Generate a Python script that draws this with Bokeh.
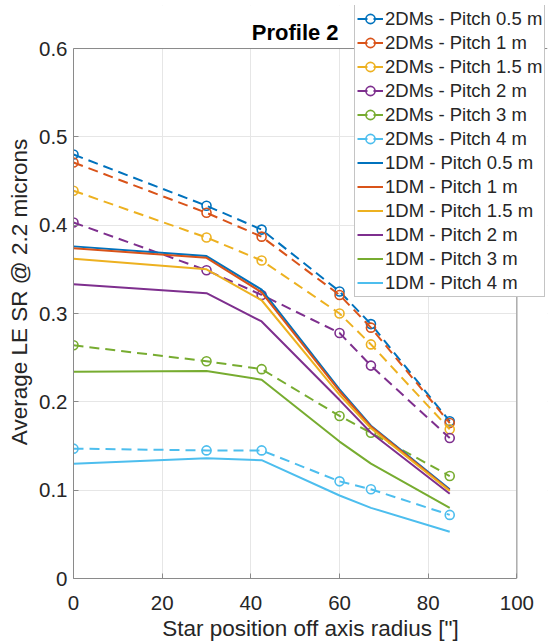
from bokeh.plotting import figure
from bokeh.models import Legend, LegendItem, Range1d, FixedTicker, Span, BoxAnnotation, Label
from bokeh.embed import file_html
from bokeh.resources import INLINE

# ---- data ----
x_pos = [0, 30, 42.43, 60, 67.08, 84.85]
pitches = ["0.5", "1", "1.5", "2", "3", "4"]

sr_2dms = {
    "0.5": [0.480, 0.422, 0.395, 0.325, 0.288, 0.178],
    "1":   [0.471, 0.414, 0.387, 0.321, 0.284, 0.176],
    "1.5": [0.439, 0.386, 0.360, 0.300, 0.265, 0.169],
    "2":   [0.403, 0.349, 0.321, 0.278, 0.241, 0.159],
    "3":   [0.264, 0.246, 0.237, 0.184, 0.165, 0.116],
    "4":   [0.147, 0.145, 0.145, 0.110, 0.101, 0.072],
}
sr_1dm = {
    "0.5": [0.376, 0.365, 0.327, 0.214, 0.173, 0.101],
    "1":   [0.374, 0.363, 0.324, 0.212, 0.172, 0.100],
    "1.5": [0.362, 0.350, 0.315, 0.208, 0.170, 0.099],
    "2":   [0.333, 0.323, 0.291, 0.202, 0.165, 0.096],
    "3":   [0.234, 0.235, 0.225, 0.155, 0.130, 0.080],
    "4":   [0.130, 0.136, 0.134, 0.094, 0.080, 0.053],
}
colors = ["#0072BD", "#D95319", "#EDB120", "#7E2F8E", "#77AC30", "#4DBEEE"]
x_ticks = [0, 20, 40, 60, 80, 100]
y_ticks = [0, 0.1, 0.2, 0.3, 0.4, 0.5, 0.6]
X_MAX, Y_MAX = 100, 0.6          # axes box limits
X_VIEW, Y_VIEW = 106.9, 0.6487   # extra room so the legend can overhang the box

FONT = "Liberation Sans"
TXT = "#262626"
AX = "#8a8a8a"

p = figure(width=550, height=643, output_backend="svg", toolbar_location=None,
           x_range=Range1d(0, X_VIEW), y_range=Range1d(0, Y_VIEW),
           min_border_left=73, min_border_right=3, min_border_top=5, min_border_bottom=65)
p.background_fill_color = "white"
p.border_fill_color = "white"
p.outline_line_color = None

for ax in (p.xaxis[0], p.yaxis[0]):
    ax.major_label_text_font = FONT
    ax.major_label_text_font_size = "20.5px"
    ax.major_label_text_color = TXT
    ax.axis_label_text_font = FONT
    ax.axis_label_text_font_size = "22.5px"
    ax.axis_label_text_font_style = "normal"
    ax.axis_label_text_color = TXT
    ax.axis_line_color = AX
    ax.major_tick_line_color = AX
    ax.major_tick_in = 5
    ax.major_tick_out = 0
    ax.minor_tick_line_color = None

p.xaxis.ticker = FixedTicker(ticks=x_ticks)
p.yaxis.ticker = FixedTicker(ticks=y_ticks)
p.xaxis.bounds = (0, X_MAX)
p.yaxis.bounds = (0, Y_MAX)
p.yaxis.major_label_overrides = {0: "0"}
p.xaxis.axis_label = 'Star position off axis radius ["]'
p.yaxis.axis_label = "Average LE SR @ 2.2 microns"
p.xaxis.major_label_standoff = 17
p.xaxis.axis_label_standoff = 3
p.yaxis.major_label_standoff = 6
p.yaxis.axis_label_standoff = 4

p.xgrid.ticker = FixedTicker(ticks=x_ticks)
p.ygrid.ticker = FixedTicker(ticks=y_ticks)
p.grid.grid_line_color = "#e6e6e6"
p.grid.grid_line_width = 1

# mask grid outside the axes box
p.add_layout(BoxAnnotation(left=X_MAX, right=X_VIEW, bottom=0, top=Y_VIEW, fill_color="white",
                           fill_alpha=1, line_color=None, level="underlay"))
p.add_layout(BoxAnnotation(left=0, right=X_VIEW, bottom=Y_MAX, top=Y_VIEW, fill_color="white",
                           fill_alpha=1, line_color=None, level="underlay"))

items = []
for pitch, c in zip(pitches, colors):
    ys = sr_2dms[pitch]
    lr = p.line(x_pos, ys, line_color=c, line_width=2, line_dash="10 6")
    sr = p.scatter(x_pos, ys, marker="circle", size=9, line_color=c, line_width=1.6, fill_color=None)
    items.append(LegendItem(label=f"2DMs - Pitch {pitch} m", renderers=[lr, sr]))
for pitch, c in zip(pitches, colors):
    ys = sr_1dm[pitch]
    lr = p.line(x_pos, ys, line_color=c, line_width=2)
    items.append(LegendItem(label=f"1DM - Pitch {pitch} m", renderers=[lr]))

# top and right edges of the axes box
p.add_layout(Span(location=X_MAX, dimension="height", line_color=AX, line_width=1))
p.add_layout(Span(location=Y_MAX, dimension="width", line_color=AX, line_width=1))

p.add_layout(Label(x=X_MAX / 2, y=Y_MAX, y_offset=16, text="Profile 2", text_align="center",
                   text_baseline="alphabetic", text_font=FONT, text_font_size="22px",
                   text_font_style="bold", text_color="black"))

legend = Legend(items=items, location=(281, 281), orientation="vertical",
                label_text_font=FONT, label_text_font_size="18.5px", label_text_color=TXT,
                glyph_width=26, glyph_height=23, label_height=23, spacing=1,
                label_standoff=2, padding=2, margin=0,
                border_line_color=AX, border_line_width=1,
                background_fill_color="white", background_fill_alpha=1)
p.add_layout(legend, "center")

open("out.html", "w").write(file_html(p, INLINE))
